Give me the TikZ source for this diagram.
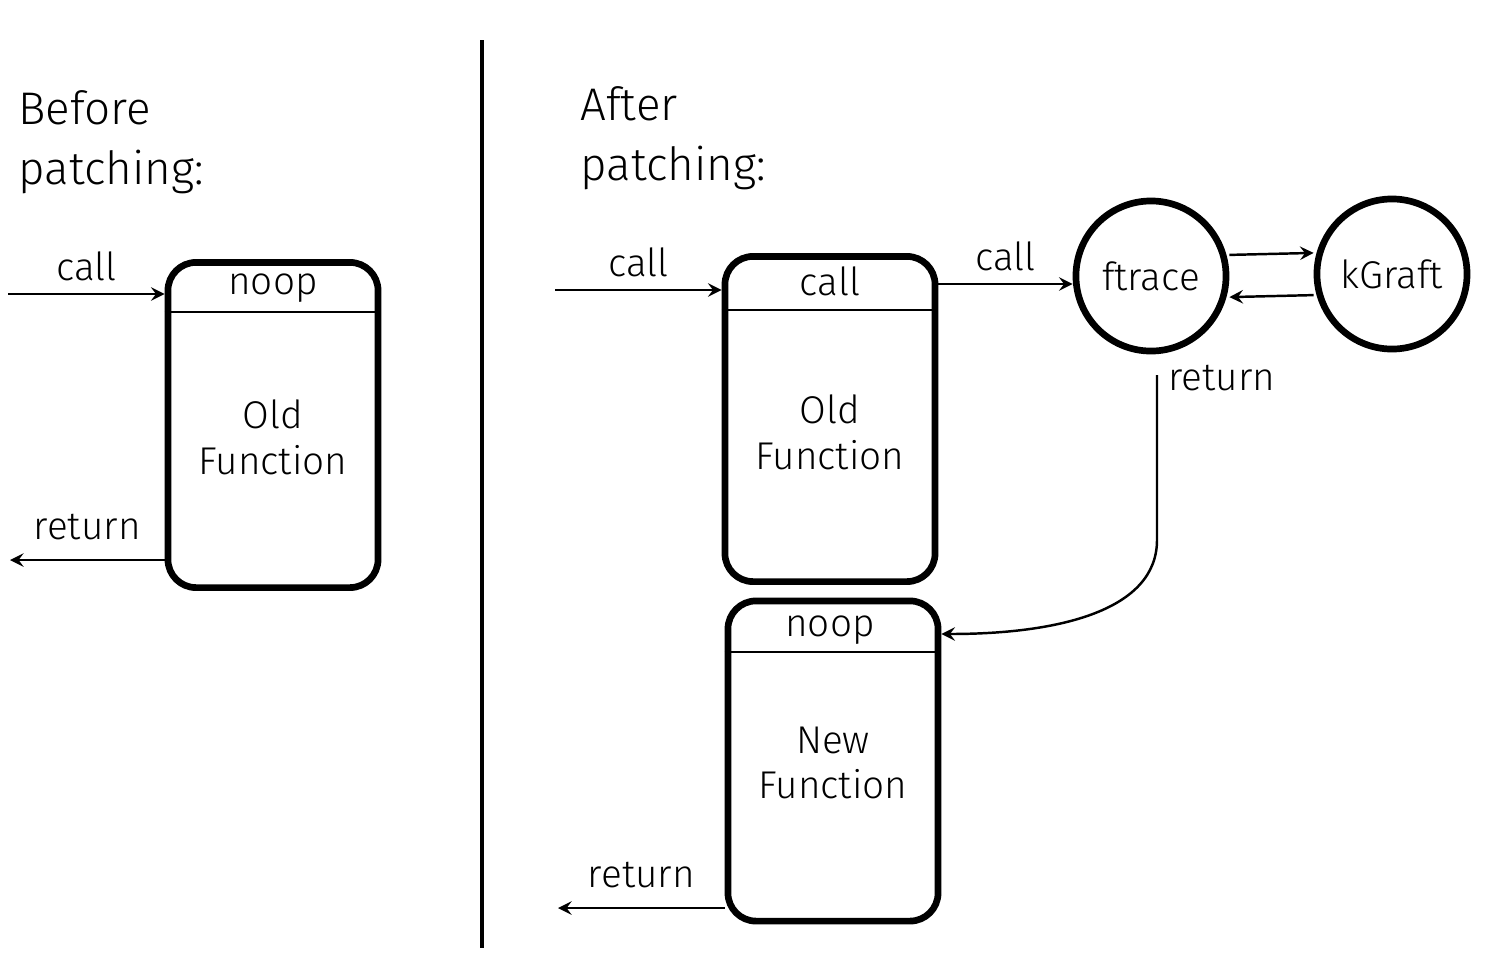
\documentclass[tikz,border=0pt]{standalone}
\usepackage{fontspec}
\setmainfont{Fira Sans Light}
\usetikzlibrary{positioning,arrows}
\tikzset{
  func/.style={draw,line width=1.9pt,rounded corners=8pt,minimum width=2.1cm,minimum height=3.25cm},
  ring/.style={draw,line width=1.9pt,circle,minimum size=1.5cm,inner sep=0pt},
  conn/.style={->,>=stealth,line width=0.7pt},
  lbl/.style={font=\fontsize{11}{13}\selectfont},
  head/.style={font=\fontsize{13}{17}\selectfont,align=left,anchor=north west}
}
\begin{document}
\begin{tikzpicture}[x=0.01cm,y=-0.01cm]
  \useasboundingbox (0,0) rectangle (1487,960);
  \draw[line width=1pt] (482,40) -- (482,948);
  \node[head] (before) at (6,78) {Before\\patching:};
  \node[head] (after) at (568,74) {After\\patching:};
  % before
  \node[func] (old1) at (273,425) {};
  \draw[line width=0.7pt] (old1.west |- 0,312) -- (old1.east |- 0,312);
  \node[lbl] at (273,288) {noop};
  \node[lbl,align=center] at (273,437) {Old\\Function};
  \coordinate (in1) at (8,294);
  \coordinate (out1) at (10,560);
  \draw[conn] (in1) -- node[lbl,above=0pt] {call} (old1.west |- in1);
  \draw[conn] (old1.west |- out1) -- node[lbl,above=2pt] {return} (out1);
  % after
  \node[func] (old2) at (830,419) {};
  \draw[line width=0.7pt] (old2.west |- 0,310) -- (old2.east |- 0,310);
  \node[lbl] at (830,281) {call};
  \node[lbl,align=center] at (830,432) {Old\\Function};
  \node[func,minimum height=3.2cm] (new) at (833,761) {};
  \draw[line width=0.7pt] (new.west |- 0,652) -- (new.east |- 0,652);
  \node[lbl] at (830,630) {noop};
  \node[lbl,align=center] at (833,763) {New\\Function};
  \node[ring] (ftrace) at (1151,276) [lbl] {ftrace};
  \node[ring] (kgraft) at (1392,274) [lbl] {kGraft};
  \coordinate (in2) at (555,290);
  \coordinate (out2) at (558,908);
  \draw[conn] (in2) -- node[lbl,above=0pt] {call} (old2.west |- in2);
  \draw[conn] (old2.east |- 0,284) -- node[lbl,above=0pt] {call} (ftrace.west |- 0,284);
  \draw[conn] ([yshift=6pt]ftrace.east) -- ([yshift=6pt]kgraft.west);
  \draw[conn] ([yshift=-6pt]kgraft.west) -- ([yshift=-6pt]ftrace.east);
  \draw[conn] (1157,375) -- (1157,540) .. controls (1157,610) and (1060,634) .. (new.east |- 0,634);
  \node[lbl] at (1222,378) {return};
  \draw[conn] (new.west |- out2) -- node[lbl,above=2pt] {return} (out2);
\end{tikzpicture}
\end{document}
